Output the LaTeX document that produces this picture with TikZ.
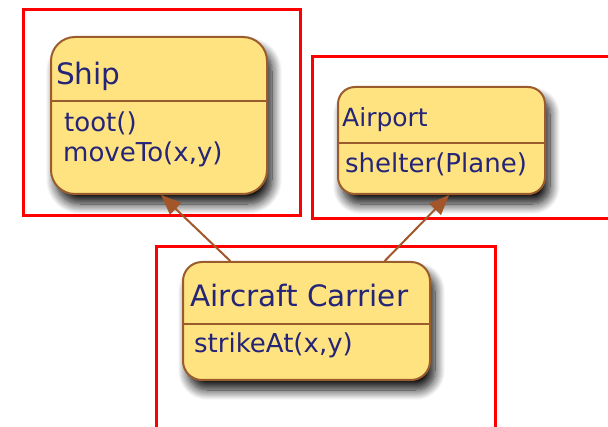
\documentclass[tikz,border=0pt]{standalone}
\usepackage{fontspec}
\setmainfont{DejaVu Sans}
\usetikzlibrary{shadows.blur,arrows.meta,calc}
\definecolor{classfill}{RGB}{255,227,128}
\definecolor{classedge}{RGB}{155,92,45}
\definecolor{classtext}{RGB}{36,36,120}
\definecolor{linkbrown}{RGB}{162,86,42}

\begin{document}
\begin{tikzpicture}[x=1pt,y=-1pt,
  frame/.style={draw=red, line width=3pt},
  classbox/.style={draw=classedge, fill=classfill, line width=2pt,
    rectangle, inner sep=0pt, anchor=north west,
    blur shadow={shadow xshift=5pt, shadow yshift=-10pt,
      shadow blur radius=10pt, shadow blur steps=12, shadow opacity=95}},
  divider/.style={draw=classedge, line width=2pt},
  classname/.style={text=classtext, inner sep=0pt, anchor=base west,
    font=\fontsize{29.5}{34}\selectfont},
  members/.style={text=classtext, inner sep=0pt, anchor=base west,
    font=\fontsize{26}{30}\selectfont},
  inherit/.style={draw=linkbrown, line width=2pt,
    -{Triangle[length=20pt,width=16pt]}, fill=linkbrown}
]
\useasboundingbox (0,0) rectangle (608,427);

% grouping frames
\draw[frame] (23,10) rectangle (300,216);
\draw[frame] (620,57) -- (312,57) -- (312,219) -- (620,219);
\draw[frame] (156,440) -- (156,247) -- (495,247) -- (495,440);

% Ship
\node[classbox, minimum width=216pt, minimum height=157pt,
      rounded corners=24pt] (ship) at (50,36) {};
\draw[divider] (ship.west |- 0,101) -- (ship.east |- 0,101);
\node[classname] (shipname) at (56,85) {Ship};
\node[members] (shipop1) at (64,132) {toot()};
\node[members] (shipop2) at (63,162) {moveTo(x,y)};

% Airport
\node[classbox, minimum width=207pt, minimum height=107pt,
      rounded corners=17pt] (airport) at (337,86) {};
\draw[divider] (airport.west |- 0,143) -- (airport.east |- 0,143);
\node[classname, font=\fontsize{25}{30}\selectfont] (airportname) at (342,127) {Airport};
\node[members] (airportop) at (345,173) {shelter(Plane)};

% Aircraft Carrier
\node[classbox, minimum width=247pt, minimum height=118pt,
      rounded corners=19pt] (carrier) at (182,261) {};
\draw[divider] (carrier.west |- 0,324) -- (carrier.east |- 0,324);
\node[classname] (carriername) at (190,307) {Aircraft Carrier};
\node[members] (carrierop) at (194,353) {strikeAt(x,y)};

% generalisation links
\draw[inherit] ($(carrier.north west)!0.194!(carrier.north east)$)
  -- ($(ship.south west)!0.51!(ship.south east)$);
\draw[inherit] ($(carrier.north west)!0.814!(carrier.north east)$)
  -- ($(airport.south west)!0.536!(airport.south east)$);
\end{tikzpicture}
\end{document}
